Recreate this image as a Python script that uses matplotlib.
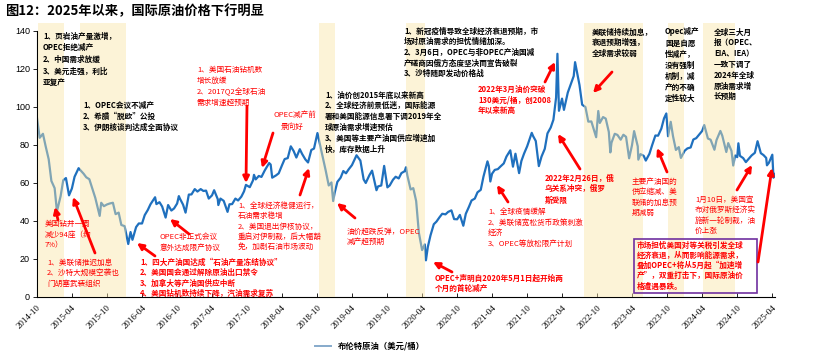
import matplotlib
matplotlib.use("Agg")
import matplotlib.pyplot as plt
import matplotlib.dates as mdates
import pandas as pd
from matplotlib.lines import Line2D
from matplotlib.patches import Rectangle

plt.rcParams['font.family'] = ['Noto Sans CJK SC', 'DejaVu Sans']

# Brent daily price (USD/bbl), semi-monthly plus turning points
dates = [
    "2014-10-01", "2014-10-15", "2014-11-01", "2014-11-15", "2014-12-01", "2014-12-15",
    "2015-01-01", "2015-01-13", "2015-02-01", "2015-02-15", "2015-03-01", "2015-03-17",
    "2015-04-01", "2015-04-15", "2015-05-06", "2015-05-15", "2015-06-01", "2015-06-15",
    "2015-07-01", "2015-07-15", "2015-08-01", "2015-08-24", "2015-09-01", "2015-09-15",
    "2015-10-01", "2015-10-15", "2015-11-01", "2015-11-15", "2015-12-01", "2015-12-15",
    "2016-01-01", "2016-01-20", "2016-02-01", "2016-02-11", "2016-03-01", "2016-03-15",
    "2016-04-01", "2016-04-15", "2016-05-01", "2016-05-15", "2016-06-08", "2016-06-15",
    "2016-07-01", "2016-07-15", "2016-08-02", "2016-08-15", "2016-09-01", "2016-09-15",
    "2016-10-01", "2016-10-10", "2016-10-15", "2016-11-01", "2016-11-14", "2016-12-01",
    "2016-12-15",
    "2017-01-01", "2017-01-15", "2017-02-01", "2017-02-15", "2017-03-01", "2017-03-15",
    "2017-04-01", "2017-04-12", "2017-05-01", "2017-05-04", "2017-05-15", "2017-06-01",
    "2017-06-21", "2017-07-01", "2017-07-15", "2017-08-01", "2017-08-15", "2017-09-01",
    "2017-09-15", "2017-09-25", "2017-10-15", "2017-11-01", "2017-11-06", "2017-11-15",
    "2017-12-01", "2017-12-15",
    "2018-01-01", "2018-01-24", "2018-02-01", "2018-02-09", "2018-03-01", "2018-03-15",
    "2018-04-01", "2018-04-15", "2018-05-01", "2018-05-17", "2018-06-01", "2018-06-15",
    "2018-07-03", "2018-07-15", "2018-08-01", "2018-08-15", "2018-09-01", "2018-09-15",
    "2018-10-03", "2018-10-15", "2018-11-01", "2018-11-15", "2018-12-01", "2018-12-15",
    "2018-12-24",
    "2019-01-01", "2019-01-15", "2019-02-01", "2019-02-15", "2019-03-01", "2019-03-15",
    "2019-04-01", "2019-04-25", "2019-05-15", "2019-06-01", "2019-06-12", "2019-07-01",
    "2019-07-15", "2019-08-07", "2019-08-15", "2019-09-01", "2019-09-16", "2019-10-03",
    "2019-10-15", "2019-11-01", "2019-11-15", "2019-12-01", "2019-12-15",
    "2020-01-01", "2020-01-08", "2020-01-15", "2020-02-01", "2020-02-15", "2020-03-01",
    "2020-03-15", "2020-04-01", "2020-04-15", "2020-04-21", "2020-05-01", "2020-05-15",
    "2020-06-01", "2020-06-15", "2020-07-01", "2020-07-15", "2020-08-01", "2020-08-15",
    "2020-09-01", "2020-09-15", "2020-10-01", "2020-10-15", "2020-11-02", "2020-11-15",
    "2020-12-01", "2020-12-15",
    "2021-01-01", "2021-01-15", "2021-02-01", "2021-02-15", "2021-03-08", "2021-03-15",
    "2021-03-23", "2021-04-01", "2021-04-15", "2021-05-01", "2021-05-15", "2021-06-01",
    "2021-06-15", "2021-07-05", "2021-07-19", "2021-08-01", "2021-08-20", "2021-09-01",
    "2021-09-15", "2021-10-01", "2021-10-25", "2021-11-01", "2021-11-15", "2021-12-01",
    "2021-12-15",
    "2022-01-01", "2022-01-15", "2022-02-01", "2022-02-15", "2022-03-01", "2022-03-08",
    "2022-03-16", "2022-04-01", "2022-04-11", "2022-05-01", "2022-05-15", "2022-06-01",
    "2022-06-08", "2022-07-01", "2022-07-15", "2022-08-01", "2022-08-16", "2022-09-01",
    "2022-09-26", "2022-10-07", "2022-10-15", "2022-11-01", "2022-11-15", "2022-12-01",
    "2022-12-09", "2022-12-15",
    "2023-01-01", "2023-01-15", "2023-02-01", "2023-02-15", "2023-03-01", "2023-03-17",
    "2023-04-01", "2023-04-12", "2023-05-01", "2023-05-04", "2023-05-15", "2023-06-01",
    "2023-06-12", "2023-07-01", "2023-07-15", "2023-08-01", "2023-08-15", "2023-09-01",
    "2023-09-15", "2023-09-27", "2023-10-06", "2023-10-20", "2023-11-01", "2023-11-16",
    "2023-12-01", "2023-12-12",
    "2024-01-01", "2024-01-15", "2024-02-01", "2024-02-15", "2024-03-01", "2024-03-15",
    "2024-04-01", "2024-04-12", "2024-05-01", "2024-05-15", "2024-06-04", "2024-06-15",
    "2024-07-05", "2024-07-15", "2024-08-05", "2024-08-15", "2024-09-01", "2024-09-10",
    "2024-09-20", "2024-10-01", "2024-10-07", "2024-10-15", "2024-11-01", "2024-11-15",
    "2024-12-01", "2024-12-15",
    "2025-01-01", "2025-01-15", "2025-02-01", "2025-02-15", "2025-03-01", "2025-03-05",
    "2025-03-15", "2025-04-02", "2025-04-08", "2025-04-15",
]
prices = [
    94.2, 83.8, 85.9, 79.4, 72.5, 61.1,
    57.3, 45.1, 53.0, 61.5, 62.6, 53.5,
    57.1, 63.3, 67.8, 66.8, 64.9, 63.0,
    62.0, 57.5, 52.2, 42.7, 49.6, 47.8,
    48.7, 49.2, 49.6, 43.6, 44.4, 37.9,
    37.3, 27.9, 34.2, 30.1, 36.8, 38.7,
    38.7, 43.1, 45.8, 48.8, 52.5, 48.9,
    49.9, 47.6, 41.8, 48.4, 45.5, 46.6,
    49.2, 53.1, 51.9, 48.6, 44.4, 53.9,
    54.0,
    56.8, 55.5, 56.8, 55.8, 56.0, 51.8,
    53.5, 56.2, 51.5, 48.4, 51.8, 50.6,
    44.8, 48.8, 48.9, 51.8, 50.8, 52.8,
    55.6, 59.0, 57.8, 61.4, 64.3, 61.9,
    63.7, 63.2,
    66.6, 70.5, 69.7, 62.8, 64.0, 65.1,
    69.3, 72.6, 73.1, 79.3, 76.8, 73.4,
    77.8, 75.3, 72.4, 70.8, 77.4, 78.1,
    86.3, 80.8, 72.9, 66.6, 58.7, 60.3,
    50.5,
    54.9, 60.6, 62.8, 66.3, 65.1, 67.2,
    69.4, 74.6, 71.8, 61.9, 60.0, 64.1,
    66.5, 56.2, 58.2, 58.7, 69.0, 57.7,
    58.7, 61.7, 63.3, 62.4, 65.2,
    66.2, 68.3, 64.0, 56.6, 57.3, 50.5,
    33.9, 24.7, 27.7, 19.3, 26.4, 32.5,
    38.3, 39.7, 42.0, 43.8, 43.5, 44.8,
    45.6, 41.0, 40.9, 43.2, 37.5, 43.8,
    47.4, 50.8,
    51.8, 55.1, 56.4, 63.3, 71.4, 68.9,
    60.8, 64.9, 66.9, 67.3, 68.7, 70.3,
    73.9, 77.2, 68.6, 75.4, 65.2, 71.6,
    75.5, 79.3, 86.4, 84.7, 82.1, 68.9,
    73.9,
    78.0, 86.1, 89.2, 93.3, 105.0, 128.0,
    98.0, 104.4, 98.5, 107.6, 111.6, 116.3,
    123.6, 111.6, 101.2, 100.0, 92.3, 92.4,
    84.1, 97.9, 91.6, 94.7, 93.9, 86.9,
    76.1, 81.2,
    85.9, 85.3, 82.8, 85.4, 84.3, 73.0,
    79.9, 87.3, 79.3, 72.3, 75.2, 74.3,
    71.8, 75.4, 79.9, 85.0, 84.9, 88.6,
    94.0, 96.6, 84.6, 92.2, 84.6, 77.4,
    78.9, 73.2,
    77.0, 78.2, 78.7, 82.9, 83.6, 85.3,
    87.4, 90.5, 83.4, 82.8, 77.5, 82.6,
    87.4, 84.9, 76.3, 81.0, 76.9, 69.2,
    74.5, 73.6, 80.9, 74.3, 73.1, 71.0,
    72.9, 74.5,
    75.9, 82.0, 75.7, 74.7, 73.2, 69.3,
    70.6, 74.9, 62.8, 64.7,
]

# shaded event periods
band_starts = ["2014-10-05", "2015-05-15", "2018-10-10", "2020-01-08",
               "2022-07-25", "2023-10-05", "2024-04-05"]
band_ends = ["2015-02-18", "2016-01-10", "2019-01-03", "2020-04-15",
             "2023-05-28", "2023-12-28", "2024-09-20"]

tick_dates = pd.date_range("2014-10-01", "2025-04-01", freq="6MS")
y_ticks = [0, 20, 40, 60, 80, 100, 120, 140]

W, H = 820, 353
BLUE = "#1F70BE"
RED = "#FF0000"


def fpx(x, y):
    return (x / W, 1 - y / H)


fig = plt.figure(figsize=(W / 100, H / 100), dpi=100)
ax = fig.add_axes([37 / W, 1 - 297 / H, (775 - 37) / W, (297 - 31) / H])

d = pd.to_datetime(dates)
ax.plot(d, prices, color=BLUE, lw=1.6, zorder=2, solid_joinstyle="round")

for s, e in zip(band_starts, band_ends):
    x0 = mdates.date2num(pd.Timestamp(s))
    x1 = mdates.date2num(pd.Timestamp(e))
    ax.add_patch(Rectangle((x0, 0), x1 - x0, 144, facecolor="#FAE6A8",
                           alpha=0.45, edgecolor="none", zorder=3, clip_on=False))

ax.set_xlim(pd.Timestamp("2014-10-01"), pd.Timestamp("2025-04-16"))
ax.set_ylim(0, 140)
ax.set_xticks(tick_dates)
ax.set_xticklabels([t.strftime("%Y-%m") for t in tick_dates], rotation=45,
                   ha="right", rotation_mode="anchor", fontsize=6.5,
                   family="Liberation Serif")
ax.set_yticks(y_ticks)
ax.set_yticklabels([str(v) for v in y_ticks], fontsize=6.5, family="Liberation Sans")
ax.tick_params(axis="x", direction="in", length=3, width=0.6, pad=5)
ax.tick_params(axis="y", direction="out", length=3, width=0.6, pad=2)
for sp in ("top", "right"):
    ax.spines[sp].set_visible(False)
for sp in ("left", "bottom"):
    ax.spines[sp].set_linewidth(0.8)

fig.text(*fpx(5, 11), "图12：2025年以来，国际原油价格下行明显", fontsize=9.5,
         fontweight="bold", va="center", ha="left")

handle = Line2D([], [], color="#86AACB", lw=1.4)
fig.legend([handle], ["布伦特原油（美元/桶）"], loc="center",
           bbox_to_anchor=fpx(370, 346), frameon=False, handlelength=2.0,
           prop={"size": 6, "weight": "bold"})


def block(x, y0, dy, lines, color="black", bold=True, size=5.5):
    for i, s in enumerate(lines):
        fig.text(*fpx(x, y0 + i * dy), s, fontsize=size, color=color,
                 fontweight="bold" if bold else "normal", va="center",
                 ha="left", zorder=6)


block(43, 36, 11.7, ["1、页岩油产量激增，", "OPEC拒绝减产", "2、中国需求放缓",
                     "3、美元走强，利比", "亚复产"])
block(83, 105, 11, ["1、OPEC会议不减产", "2、希腊“脱欧”公投", "3、伊朗核谈判达成全面协议"])
block(197, 70, 11, ["1、美国石油钻机数", "增长放缓", "2、2017Q2全球石油", "需求增速超预期"],
      color=RED, bold=False)
block(273, 115, 12, ["OPEC减产前"], color=RED, bold=False)
block(281, 127, 12, ["景向好"], color=RED, bold=False)
block(325, 95, 10.8, ["1、油价创2015年底以来新高", "2、全球经济前景低迷，国际能源",
                      "署和美国能源信息署下调2019年全", "球原油需求增速预估",
                      "3、美国等主要产油国供应增速加", "快，库存数据上升"])
block(404, 31, 10.7, ["1、新冠疫情导致全球经济衰退预期，市", "场对原油需求的担忧情绪加深。",
                      "2、3月6日，OPEC与非OPEC产油国减", "产磋商因俄方态度坚决而宣告破裂",
                      "3、沙特随即发动价格战"])
block(478, 89, 10.5, ["2022年3月油价突破", "130美元/桶，创2008", "年以来新高"], color=RED)
block(592, 32, 10.7, ["美联储持续加息，", "衰退预期增强，", "全球需求较弱"])
block(665, 32, 11, ["Opec减产", "国是自愿", "性减产，", "没有强制", "机制，减",
                    "产的不确", "定性较大"])
block(714, 32, 10.8, ["全球三大月", "报（OPEC、", "EIA、IEA）", "一致下调了",
                      "2024年全球", "原油需求增", "长预期"])
block(45, 224, 10.5, ["美国钻井一周", "减少94座（约", "7%）"], color=RED, bold=False)
block(47, 263, 10.3, ["1、美联储推迟加息", "2、沙特大规模空袭也", "门胡塞武装组织"],
      color=RED, bold=False)
block(160, 237, 10.5, ["OPEC非正式会议", "意外达成限产协议"], color=RED, bold=False)
block(140, 262, 10.5, ["1、四大产油国达成“石油产量冻结协议”", "2、美国国会通过解除原油出口禁令",
                       "3、加拿大等产油国供应中断", "4、美国钻机数持续下降，汽油需求复苏"],
      color=RED)
block(238, 206, 10.3, ["1、全球经济稳健运行，", "石油需求稳增", "2、美国退出伊核协议，",
                       "重启对伊制裁，后大幅豁", "免，加剧石油市场波动"], color=RED, bold=False)
block(347, 232, 10, ["油价超跌反弹，OPEC", "减产超预期"], color=RED, bold=False)
block(435, 278, 10.5, ["OPEC+声明自2020年5月1日起开始两", "个月的首轮减产"], color=RED)
block(488, 212, 10.7, ["1、全球疫情缓解", "2、美联储宽松货币政策刺激", "经济",
                       "3、OPEC等放松限产计划"], color=RED, bold=False)
block(545, 178, 11, ["2022年2月26日，俄", "乌关系冲突，俄罗", "斯受限"], color=RED)
block(632, 182, 10.3, ["主要产油国的", "供应缩减、美", "联储的加息预", "期减弱"],
      color=RED, bold=False)
block(695, 200, 10.4, ["1月10日，美国宣", "布对俄罗斯经济实", "施新一轮制裁，油", "价上涨"],
      color=RED, bold=False)
block(637, 245, 10.3, ["市场担忧美国对等关税引发全球", "经济衰退，从而影响能源需求，",
                       "叠加OPEC+将从5月起“加速增", "产”，双重打击下，国际原油价",
                       "格遭遇暴跌。"], color=RED)

bx0, by0 = fpx(634, 293)
bx1, by1 = fpx(757, 239)
fig.add_artist(Rectangle((bx0, by0), bx1 - bx0, by1 - by0, transform=fig.transFigure,
                         fill=False, edgecolor="#7030A0", lw=1.2, zorder=5))

arrows = [
    ((58, 220), (55, 207)), ((95, 253), (73, 197)), ((155, 256), (137, 243)),
    ((189, 234), (170, 219)), ((247, 106), (246, 183)), ((273, 133), (262, 168)),
    ((300, 195), (309, 168)), ((355, 218), (337, 203)), ((545, 82), (555, 62)),
    ((612, 72), (593, 93)), ((580, 169), (558, 134)), ((508, 202), (497, 185)),
    ((667, 172), (657, 148)), ((737, 190), (752, 165)), ((758, 262), (772, 168)),
    ((452, 272), (433, 262)),
]
for tail, head in arrows:
    fig.add_artist(matplotlib.patches.FancyArrowPatch(
        fpx(*tail), fpx(*head), transform=fig.transFigure, arrowstyle="-|>",
        mutation_scale=9, color=RED, lw=2.0, zorder=7, shrinkA=0, shrinkB=0))

fig.savefig("out.png", dpi=100)
